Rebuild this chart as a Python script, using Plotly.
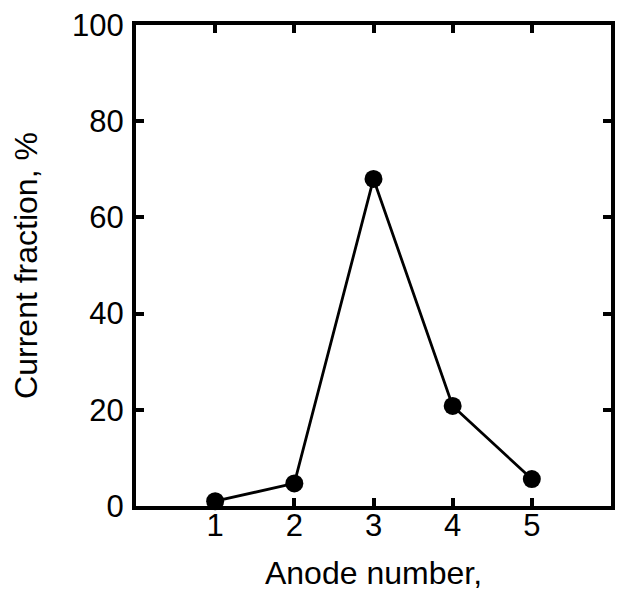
import plotly.graph_objects as go

# Anode current distribution
anode_number = [1, 2, 3, 4, 5]
current_fraction = [1.0, 4.7, 68.0, 20.8, 5.6]

x_tick_values = [1, 2, 3, 4, 5]
y_tick_values = [0, 20, 40, 60, 80, 100]

font_family = "Liberation Sans, Arial, sans-serif"

fig = go.Figure(
    go.Scatter(
        x=anode_number,
        y=current_fraction,
        mode="lines+markers",
        line=dict(color="black", width=2.8),
        marker=dict(color="black", size=18),
        cliponaxis=False,
        showlegend=False,
    )
)

axis_common = dict(
    showline=True,
    linecolor="black",
    linewidth=4,
    mirror="ticks",
    ticks="inside",
    ticklen=8,
    tickwidth=4,
    tickcolor="black",
    showgrid=False,
    zeroline=False,
    tickfont=dict(family=font_family, size=31, color="black"),
)

fig.update_xaxes(
    range=[0, 6],
    tickvals=x_tick_values,
    ticklabelstandoff=-11,
    title=dict(text="Anode number,", font=dict(family=font_family, size=32, color="black"), standoff=20),
    **axis_common,
)
fig.update_yaxes(
    range=[0, 100],
    tickvals=y_tick_values,
    ticklabelstandoff=2,
    title=dict(text="Current fraction, %", font=dict(family=font_family, size=32, color="black"), standoff=26),
    **axis_common,
)

fig.update_layout(
    width=623,
    height=594,
    margin=dict(l=136, r=8, t=24, b=88),
    paper_bgcolor="white",
    plot_bgcolor="white",
    font=dict(family=font_family, color="black"),
)

fig.write_html("out.html")
